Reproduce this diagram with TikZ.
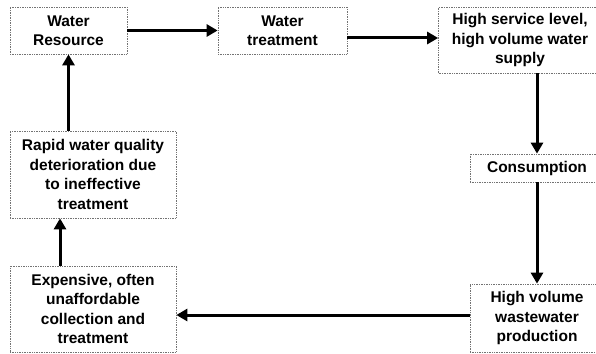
\documentclass[tikz,border=0pt]{standalone}
\usepackage{fontspec}
\setmainfont{Liberation Sans}
\usetikzlibrary{arrows.meta}
\begin{document}
\begin{tikzpicture}[x=1pt,y=-1pt,
  box/.style={draw=black!55, densely dotted, line width=0.7pt, align=center, inner sep=0pt,
    font=\fontsize{15.5}{19.5}\selectfont\bfseries},
  arr/.style={line width=3pt, -{Triangle[length=11pt,width=12pt]}}]
\useasboundingbox (0,0) rectangle (596,353);
\clip (0,0) rectangle (596,353);
\fill[white] (0,0) rectangle (596,353);
\node[box, minimum width=117pt, minimum height=47pt] (wr) at (68.5,30.5) {Water\\Resource};
\node[box, minimum width=129pt, minimum height=47pt] (wt) at (282.5,30.5) {Water\\treatment};
\node[box, minimum width=163pt, minimum height=66pt] (hs) at (520,40) {High service level,\\high volume water\\supply};
\node[box, minimum width=134pt, minimum height=28pt] (cons) at (537,168) {Consumption};
\node[box, minimum width=134pt, minimum height=68pt] (hv) at (537,318) {High volume\\wastewater\\production};
\node[box, minimum width=166pt, minimum height=87pt] (rapid) at (93,174.5) {Rapid water quality\\deterioration due\\to ineffective\\treatment};
\node[box, minimum width=166pt, minimum height=86pt] (exp) at (93,309) {Expensive, often\\unaffordable\\collection and\\treatment};
\draw[arr] (wr.east) -- (wr.east -| wt.west);
\draw[arr] ([yshift=-7.5pt]wt.east) -- ([yshift=-7.5pt]wt.east -| hs.west);
\draw[arr] (cons.north |- hs.south) -- (cons.north);
\draw[arr] (cons.south) -- (hv.north);
\draw[arr] ([yshift=3pt]hv.west) -- ([yshift=3pt]hv.west -| exp.east);
\draw[arr] ([xshift=-33pt]exp.north) -- ([xshift=-33pt]rapid.south);
\draw[arr] (rapid.north -| wr.south) -- (wr.south);
\end{tikzpicture}
\end{document}
